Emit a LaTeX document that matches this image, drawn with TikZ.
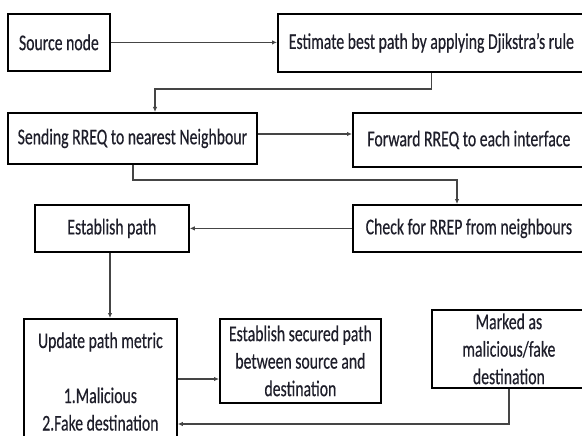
\documentclass[tikz,border=0pt]{standalone}
\usepackage{fontspec}
\setmainfont{Carlito}[FakeStretch=0.70,FakeBold=0.4]
\usetikzlibrary{arrows.meta}
\definecolor{txt}{HTML}{1E1E2A}
\definecolor{ln}{HTML}{454545}
\begin{document}
\begin{tikzpicture}[x=1pt,y=-1pt,
  box/.style={draw=black,line width=1.8pt,rectangle,inner sep=0pt,anchor=north west,align=center,text=txt,font=\fontsize{22.5}{27.5}\selectfont},
  conn/.style={draw=ln,line width=1.2pt,-{Latex[length=5pt,width=4.5pt]}}]
\path[use as bounding box] (0,0) rectangle (582,436);
\clip (0,0) rectangle (582,436);
\fill[white] (0,0) rectangle (582,436);

\node[box,minimum width=102pt,minimum height=57pt] (src) at (7,13) {Source node};
\node[box,minimum width=307pt,minimum height=58pt] (est) at (277,13) {Estimate best path by applying Djikstra’s rule};
\node[box,minimum width=249pt,minimum height=51pt] (send) at (7,112) {Sending RREQ to nearest Neighbour};
\node[box,minimum width=232pt,minimum height=54pt] (fwd) at (352,112) {Forward RREQ to each interface};
\node[box,minimum width=154pt,minimum height=47pt] (estp) at (34,204) {Establish path};
\node[box,minimum width=232pt,minimum height=47pt] (chk) at (352,204) {Check for RREP from neighbours};
\node[box,minimum width=153pt,inner ysep=13.5pt] (upd) at (23,318) {Update path metric\\[27.5pt]1.Malicious\\2.Fake destination};
\node[box,minimum width=161pt,minimum height=84pt] (sec) at (219,318) {Establish secured path\\between source and\\destination};
\node[box,minimum width=154pt,minimum height=78pt] (mark) at (431,309) {Marked as\\malicious/fake\\destination};

\coordinate (k1) at (155,89);
\coordinate (r2) at (0,134);
\coordinate (k2) at (133,180);
\coordinate (k3) at (457,180);
\coordinate (k4) at (110,0);
\coordinate (r5) at (0,379);
\coordinate (r6) at (0,424);

\draw[conn] (src.east) -- (src.east -| est.west);
\draw[conn] (est.south) |- (k1) -- (k1 |- send.north);
\draw[conn] (send.east |- r2) -- (fwd.west |- r2);
\draw[conn] (send.south -| k2) -- (k2) -- (k3) -- (k3 |- chk.north);
\draw[conn] (chk.west) -- (chk.west -| estp.east);
\draw[conn] (estp.south -| k4) -- (k4 |- upd.north);
\draw[conn] (upd.east |- r5) -- (sec.west |- r5);
\draw[conn] (mark.south) -- (mark.south |- r6) -- (upd.east |- r6);
\end{tikzpicture}
\end{document}
